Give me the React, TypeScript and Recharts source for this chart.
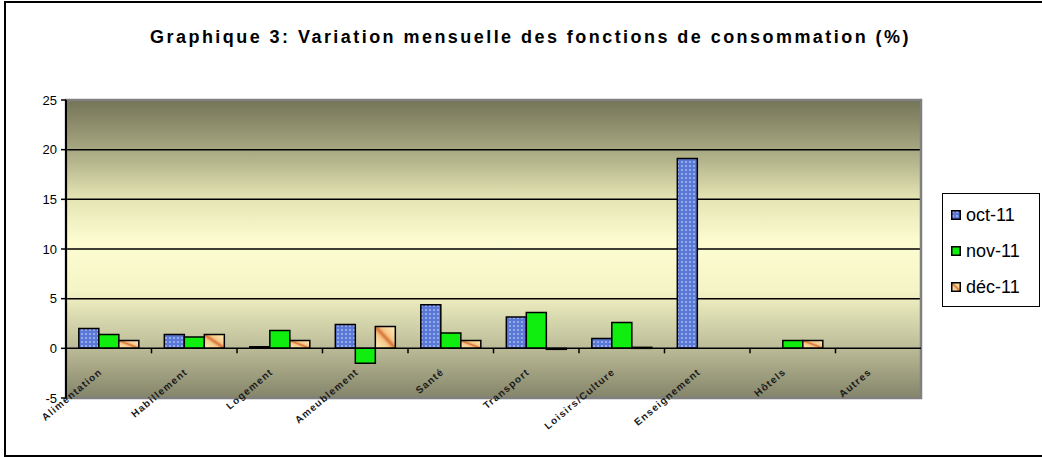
import React from 'react';
import { BarChart, Bar, XAxis, YAxis, CartesianGrid, ReferenceLine, ReferenceArea, Legend } from 'recharts';

const title = 'Graphique 3: Variation mensuelle des fonctions de consommation (%)';
const categories = ['Alimentation', 'Habillement', 'Logement', 'Ameublement', 'Santé', 'Transport', 'Loisirs/Culture', 'Enseignement', 'Hôtels', 'Autres'];
const oct11 = [2.0, 1.4, 0.15, 2.4, 4.4, 3.15, 1.0, 19.1, 0, 0];
const nov11 = [1.4, 1.15, 1.8, -1.5, 1.55, 3.6, 2.6, 0, 0.8, 0];
const dec11 = [0.8, 1.4, 0.8, 2.2, 0.8, -0.1, 0.1, 0, 0.8, 0];
const seriesNames = ['oct-11', 'nov-11', 'déc-11'];
const seriesKeys = ['oct', 'nov', 'dec'];
const seriesFills = ['url(#patOct)', '#10ee10', 'url(#gradDec)'];
const yTicks = [-5, 0, 5, 10, 15, 20, 25];
const gridValues = [5, 10, 15, 20];

const data = categories.map((name, i) => ({ name, oct: oct11[i], nov: nov11[i], dec: dec11[i] }));

const ZeroLine = (props: any) => {
  const { x1, x2, y1 } = props;
  const n = categories.length;
  const step = (x2 - x1) / n;
  const ticks = [];
  for (let k = 1; k < n; k++) {
    const tx = x1 + k * step;
    ticks.push(<line key={k} x1={tx} x2={tx} y1={y1} y2={y1 + 5} stroke="#000" strokeWidth={1.5} />);
  }
  return (
    <g>
      <line x1={x1} x2={x2} y1={y1} y2={y1} stroke="#000" strokeWidth={1.5} />
      {ticks}
    </g>
  );
};

const XTick = (props: any) => {
  const { x, y, payload } = props;
  const ax = x - 6;
  const ay = y - 25;
  return (
    <text
      x={ax}
      y={ay}
      transform={`rotate(-40, ${ax}, ${ay})`}
      textAnchor="end"
      fontFamily="Arial, 'Liberation Sans', sans-serif"
      fontSize={10}
      fontWeight="bold"
      letterSpacing={1.2}
      fill="#1a1a1a"
    >
      {payload.value}
    </text>
  );
};

const LegendBox = (props: any) => {
  const { payload } = props;
  return (
    <div
      style={{
        width: 98,
        height: 114,
        border: '1px solid #000',
        background: '#fff',
        boxSizing: 'border-box',
        fontFamily: "Arial, 'Liberation Sans', sans-serif",
        fontSize: 18,
        paddingTop: 3,
      }}
    >
      {(payload || []).map((p: any, i: number) => (
        <div key={i} style={{ display: 'flex', alignItems: 'center', height: 36, paddingLeft: 8 }}>
          <svg width={10} height={10} style={{ marginRight: 5 }}>
            <rect x={0.75} y={0.75} width={8.5} height={8.5} fill={seriesFills[i]} stroke="#000" strokeWidth={1.5} />
          </svg>
          <span>{seriesNames[i]}</span>
        </div>
      ))}
    </div>
  );
};

export default function App() {
  return (
    <div style={{ position: 'absolute', left: 0, top: 0, width: 1042, height: 457, background: '#fff', overflow: 'hidden' }}>
      <div
        style={{
          position: 'absolute',
          left: 4,
          top: 1,
          width: 1050,
          height: 452,
          border: '2px solid #000',
        }}
      />
      <div
        style={{
          position: 'absolute',
          left: 0,
          top: 27,
          width: 1042,
          lineHeight: '20px',
          textAlign: 'center',
          fontFamily: "Arial, 'Liberation Sans', sans-serif",
          fontWeight: 'bold',
          fontSize: 18,
          letterSpacing: 2.45,
          paddingLeft: 19,
          boxSizing: 'border-box',
        }}
      >
        {title}
      </div>
      <div style={{ position: 'absolute', left: 0, top: 0 }}>
        <BarChart
          width={1042}
          height={457}
          data={data}
          margin={{ top: 100, right: 121, bottom: 0, left: 36 }}
          barCategoryGap="15%"
          barGap={0}
        >
          <defs>
            <linearGradient id="bgGrad" x1="0" y1="0" x2="0" y2="1">
              <stop offset="0%" stopColor="#747458" />
              <stop offset="17%" stopColor="#a8a882" />
              <stop offset="33%" stopColor="#e4e4b4" />
              <stop offset="48%" stopColor="#fdfdd2" />
              <stop offset="64%" stopColor="#f4f4c6" />
              <stop offset="83%" stopColor="#bcbc98" />
              <stop offset="100%" stopColor="#84846a" />
            </linearGradient>
            <pattern id="patOct" width="4" height="4" patternUnits="userSpaceOnUse">
              <rect width="4" height="4" fill="#5a78d6" />
              <circle cx="2" cy="2" r="0.9" fill="#b4c2f2" />
            </pattern>
            <linearGradient id="gradDec" x1="0" y1="1" x2="1" y2="0">
              <stop offset="0%" stopColor="#fff0c0" />
              <stop offset="38%" stopColor="#f6c888" />
              <stop offset="50%" stopColor="#d8743a" />
              <stop offset="62%" stopColor="#f6c888" />
              <stop offset="100%" stopColor="#fff0c0" />
            </linearGradient>
          </defs>
          <CartesianGrid
            vertical={false}
            horizontalValues={gridValues}
            stroke="#000"
            strokeWidth={1.5}
            fill="url(#bgGrad)"
            fillOpacity={1}
          />
          <ReferenceArea y1={-5} y2={25} fill="none" stroke="#808080" strokeWidth={2.5} ifOverflow="visible" />
          <ReferenceLine y={0} shape={ZeroLine} />
          <XAxis
            dataKey="name"
            height={59}
            axisLine={false}
            tickLine={false}
            tickSize={0}
            tickMargin={0}
            interval={0}
            tick={XTick}
          />
          <YAxis
            domain={[-5, 25]}
            ticks={yTicks}
            width={30}
            axisLine={{ stroke: '#000', strokeWidth: 2 }}
            tickLine={{ stroke: '#000', strokeWidth: 1.5 }}
            tickSize={5}
            tickMargin={4}
            tick={{ fill: '#000', fontSize: 13, fontFamily: "Arial, 'Liberation Sans', sans-serif" }}
            allowDataOverflow
          />
          <Legend
            layout="vertical"
            align="center"
            verticalAlign="middle"
            content={LegendBox}
            wrapperStyle={{ left: 942, top: 193, width: 98, height: 114 }}
          />
          {seriesKeys.map((k, i) => (
            <Bar
              key={k}
              dataKey={k}
              name={seriesNames[i]}
              fill={seriesFills[i]}
              stroke="#000"
              strokeWidth={1.5}
              isAnimationActive={false}
            />
          ))}
        </BarChart>
      </div>
    </div>
  );
}
